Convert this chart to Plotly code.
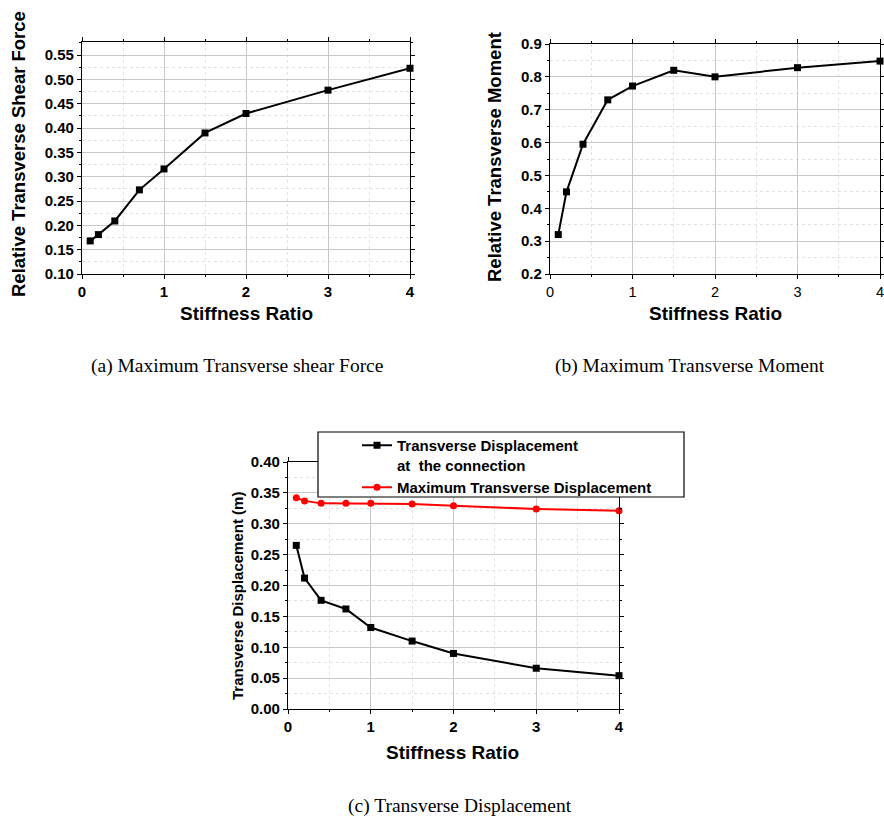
import plotly.graph_objects as go

# ---- data ----
stiffness = [0.1, 0.2, 0.4, 0.7, 1.0, 1.5, 2.0, 3.0, 4.0]
shear_force = [0.168, 0.181, 0.209, 0.273, 0.316, 0.390, 0.430, 0.478, 0.523]
moment = [0.320, 0.450, 0.595, 0.730, 0.772, 0.820, 0.800, 0.828, 0.848]
disp_connection = [0.265, 0.212, 0.176, 0.162, 0.132, 0.110, 0.090, 0.066, 0.054]
disp_maximum = [0.342, 0.337, 0.333, 0.333, 0.333, 0.332, 0.329, 0.324, 0.321]

W, H = 884, 817
FONT = "Liberation Sans, Arial, sans-serif"
SERIF = "Liberation Serif, Times New Roman, serif"


def px(x):
    return x / W


def py(y):
    return 1 - y / H


fig = go.Figure()

fig.add_trace(go.Scatter(x=stiffness, y=shear_force, mode="lines+markers",
                         line=dict(color="black", width=2),
                         marker=dict(symbol="square", size=7, color="black"),
                         xaxis="x", yaxis="y", showlegend=False, cliponaxis=False))
fig.add_trace(go.Scatter(x=stiffness, y=moment, mode="lines+markers",
                         line=dict(color="black", width=2),
                         marker=dict(symbol="square", size=7, color="black"),
                         xaxis="x2", yaxis="y2", showlegend=False, cliponaxis=False))
fig.add_trace(go.Scatter(x=stiffness, y=disp_connection, mode="lines+markers",
                         name="Transverse Displacement<br>at  the connection",
                         line=dict(color="black", width=2),
                         marker=dict(symbol="square", size=7, color="black"),
                         xaxis="x3", yaxis="y3", cliponaxis=False))
fig.add_trace(go.Scatter(x=stiffness, y=disp_maximum, mode="lines+markers",
                         name="Maximum Transverse Displacement",
                         line=dict(color="#ff0000", width=2),
                         marker=dict(symbol="circle", size=7, color="#ff0000"),
                         xaxis="x3", yaxis="y3", cliponaxis=False))


def axis_common(bold_ticks=True, size=15):
    return dict(
        automargin=False, ticklabeloverflow="allow",
        showline=True, linecolor="black", linewidth=1.2, mirror="ticks",
        ticks="outside", ticklen=4, tickwidth=1.2, tickcolor="black",
        showgrid=True, gridcolor="#c8c8c8", gridwidth=1,
        zeroline=False,
        tickfont=dict(family=FONT, size=size, color="black",
                      weight=700 if bold_ticks else 400),
        minor=dict(ticks="outside", ticklen=2, tickcolor="black", showgrid=True,
                   gridcolor="#e2e2e2", griddash="dot", gridwidth=1),
    )


fig.update_layout(
    xaxis=dict(**axis_common(), domain=[px(82), px(410)], range=[0, 4], dtick=1, anchor="y",
               minor_dtick=0.5),
    yaxis=dict(**axis_common(), domain=[py(274), py(42)], range=[0.10, 0.577], dtick=0.05,
               tick0=0.10, tickformat=".2f", anchor="x", minor_dtick=0.025),
    xaxis2=dict(**axis_common(bold_ticks=False, size=14.5), domain=[px(550), px(880)],
                range=[0, 4], dtick=1, anchor="y2", minor_dtick=0.5),
    yaxis2=dict(**axis_common(), domain=[py(274), py(44)], range=[0.2, 0.9], dtick=0.1,
                tickformat=".1f", anchor="x2", minor_dtick=0.05),
    xaxis3=dict(**axis_common(), domain=[px(288), px(619)], range=[0, 4], dtick=1,
                anchor="y3", minor_dtick=0.5),
    yaxis3=dict(**axis_common(), domain=[py(709), py(462)], range=[0, 0.40], dtick=0.05,
                tickformat=".2f", anchor="x3", minor_dtick=0.025),
)

annos = []


def title(text, x, y, size, angle=0, serif=False, bold=True):
    annos.append(dict(text=text, x=px(x), y=py(y), xref="paper", yref="paper",
                      showarrow=False, textangle=angle, xanchor="center", yanchor="middle",
                      font=dict(family=SERIF if serif else FONT, size=size, color="black",
                                weight=700 if bold else 400)))


title("Relative Transverse Shear Force", 18, 154, 18.5, angle=-90)
title("Stiffness Ratio", 246, 313, 19)
title("Relative Transverse Moment", 495, 157, 18.5, angle=-90)
title("Stiffness Ratio", 715, 313, 19)
title("Transverse Displacement (m)", 237, 596, 15, angle=-90)
title("Stiffness Ratio", 453, 752, 19)
title("(a) Maximum Transverse shear Force", 237, 366, 19.5, serif=True, bold=False)
title("(b) Maximum Transverse Moment", 690, 366, 19.5, serif=True, bold=False)
title("(c) Transverse Displacement", 460, 806, 19.5, serif=True, bold=False)

fig.update_layout(
    annotations=annos,
    shapes=[dict(type="rect", xref="paper", yref="paper",
                 x0=px(318), x1=px(684), y0=py(497), y1=py(432),
                 line=dict(color="black", width=1.2), fillcolor="white", layer="above")],
    width=W, height=H,
    margin=dict(l=0, r=0, t=0, b=0, autoexpand=False),
    paper_bgcolor="white", plot_bgcolor="white",
    legend=dict(x=px(357), y=py(429), xanchor="left", yanchor="top",
                bgcolor="rgba(0,0,0,0)", borderwidth=0,
                font=dict(family=FONT, size=15, color="black", weight=700),
                valign="top", tracegroupgap=0),
)

fig.write_html("out.html",
               config={"displayModeBar": False},
               post_script="document.body.style.margin='0';document.body.style.overflow='hidden';")
